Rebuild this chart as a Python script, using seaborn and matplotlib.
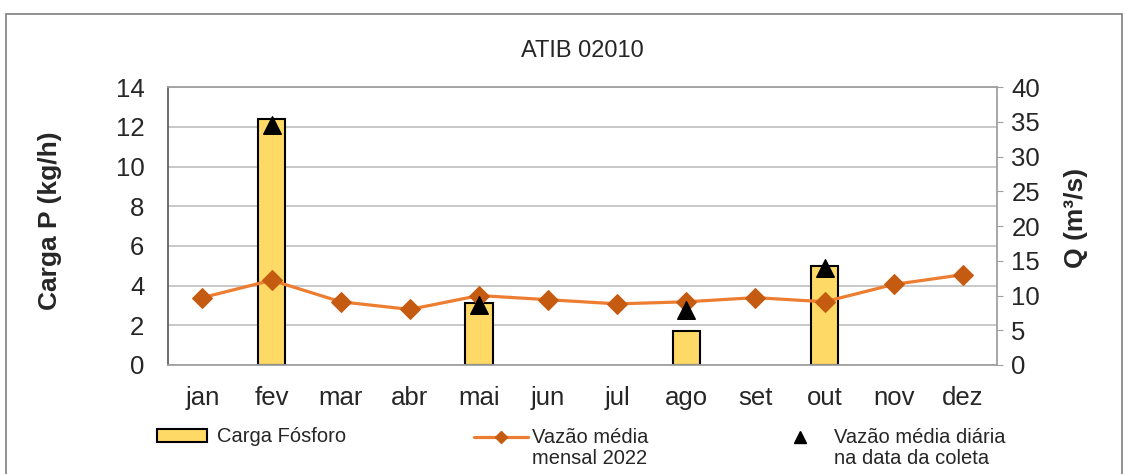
import numpy as np
import matplotlib
matplotlib.use("Agg")
import matplotlib.pyplot as plt
import seaborn as sns
from matplotlib.lines import Line2D
from matplotlib.patches import Patch, Rectangle
from matplotlib.legend_handler import HandlerLine2D

# --- DATA ---
months = ["jan", "fev", "mar", "abr", "mai", "jun", "jul", "ago", "set", "out", "nov", "dez"]
carga_months = ["fev", "mai", "ago", "out"]
carga_fosforo = [12.4, 3.1, 1.7, 5.0]
vazao_mensal = [9.7, 12.2, 9.1, 8.0, 10.0, 9.4, 8.8, 9.1, 9.7, 9.1, 11.6, 13.0]
coleta_months = ["fev", "mai", "ago", "out"]
vazao_coleta = [34.5, 8.6, 7.9, 13.9]


class FirstLineHandler(HandlerLine2D):
    # put the legend marker level with the first line of a two-line label
    def create_artists(self, legend, orig_handle, xdescent, ydescent,
                       width, height, fontsize, trans):
        artists = super().create_artists(legend, orig_handle, xdescent, ydescent,
                                         width, height, fontsize, trans)
        for a in artists:
            a.set_ydata(np.asarray(a.get_ydata()) + 0.55 * fontsize)
        return artists


sns.set_style("white")
plt.rcParams['font.family'] = ['Liberation Sans', 'DejaVu Sans']

fig = plt.figure(figsize=(11.27, 4.74), dpi=100)
ax = fig.add_axes([0.149, 0.23, 0.736, 0.586])

# bars on the left axis
sns.barplot(x=carga_months, y=carga_fosforo, order=months, ax=ax,
            color="#FFD966", edgecolor="black", linewidth=1.5, width=0.4,
            saturation=1, zorder=2)

ax.set_ylim(0, 14)
ax.set_yticks(np.arange(0, 15, 2))
ax.set_xlim(-0.5, 11.5)
ax.yaxis.grid(True, color="#BFBFBF", linewidth=1.2)
ax.set_axisbelow(True)
ax.tick_params(axis="y", labelsize=18.5, length=0, pad=17)
ax.tick_params(axis="x", labelsize=18.5, length=0, pad=15)
ax.set_xlabel("")
ax.set_ylabel("Carga P (kg/h)", fontsize=19, fontweight="bold")
ax.yaxis.set_label_coords(-0.128, 0.52)
ax.set_title("ATIB 02010", fontsize=17, pad=22)
for side in ["top", "right", "bottom"]:
    ax.spines[side].set_color("#A0A0A0")
ax.spines["left"].set_color("#606060")
for s in ax.spines.values():
    s.set_linewidth(1.3)

# flow on the right axis
ax2 = ax.twinx()
pos = {m: i for i, m in enumerate(months)}
x_mensal = [pos[m] for m in months]
x_coleta = [pos[m] for m in coleta_months]
sns.lineplot(x=x_mensal, y=vazao_mensal, ax=ax2, color="#ED7D31", linewidth=2.3,
             marker="D", markersize=10, markerfacecolor="#C55A11",
             markeredgecolor="#C55A11", zorder=3)
sns.scatterplot(x=x_coleta, y=vazao_coleta, ax=ax2, marker="^", s=160,
                color="black", edgecolor="black", zorder=4)
ax2.set_ylim(0, 40)
ax2.set_yticks(np.arange(0, 41, 5))
ax2.set_xlim(-0.5, 11.5)
ax2.tick_params(axis="y", labelsize=18.5, length=4, direction="out",
                color="#A0A0A0", pad=6)
ax2.set_ylabel("Q (m³/s)", fontsize=19, fontweight="bold")
ax2.yaxis.set_label_coords(1.08, 0.53)
for s in ax2.spines.values():
    s.set_visible(False)
ax2.grid(False)

ax.set_xticks(range(len(months)))
ax.set_xticklabels(months)

# legends
h1 = Patch(facecolor="#FFD966", edgecolor="black", linewidth=1.5)
h2 = Line2D([], [], color="#ED7D31", linewidth=2.3, marker="D", markersize=6,
            markerfacecolor="#C55A11", markeredgecolor="#C55A11")
h3 = Line2D([], [], linestyle="none", marker="^", markersize=9, color="black")
leg_kw = dict(frameon=False, borderpad=0, borderaxespad=0, fontsize=14.5)
fig.legend([h1], ["Carga Fósforo"], loc="center left",
           bbox_to_anchor=(157 / 1127, 1 - 437 / 474), handlelength=2.5,
           handleheight=0.6, handletextpad=0.5, **leg_kw)
leg2 = fig.legend([h2], ["Vazão média\nmensal 2022"], loc="upper left",
                  bbox_to_anchor=(474 / 1127, 1 - 428 / 474), handlelength=2.7,
                  handletextpad=0.2, handler_map={h2: FirstLineHandler()}, **leg_kw)
leg3 = fig.legend([h3], ["Vazão média diária\nna data da coleta"], loc="upper left",
                  bbox_to_anchor=(790 / 1127, 1 - 428 / 474), handlelength=1.0,
                  handletextpad=1.2, handler_map={h3: FirstLineHandler()}, **leg_kw)
for leg in (leg2, leg3):
    for t in leg.get_texts():
        t.set_linespacing(1.12)

# outer chart border
fig.patches.append(Rectangle((6 / 1127, -0.1), 1116 / 1127, 1.1 - 14 / 474,
                             transform=fig.transFigure, fill=False,
                             edgecolor="#7F7F7F", linewidth=1.2))

fig.savefig("out.png", dpi=100)
